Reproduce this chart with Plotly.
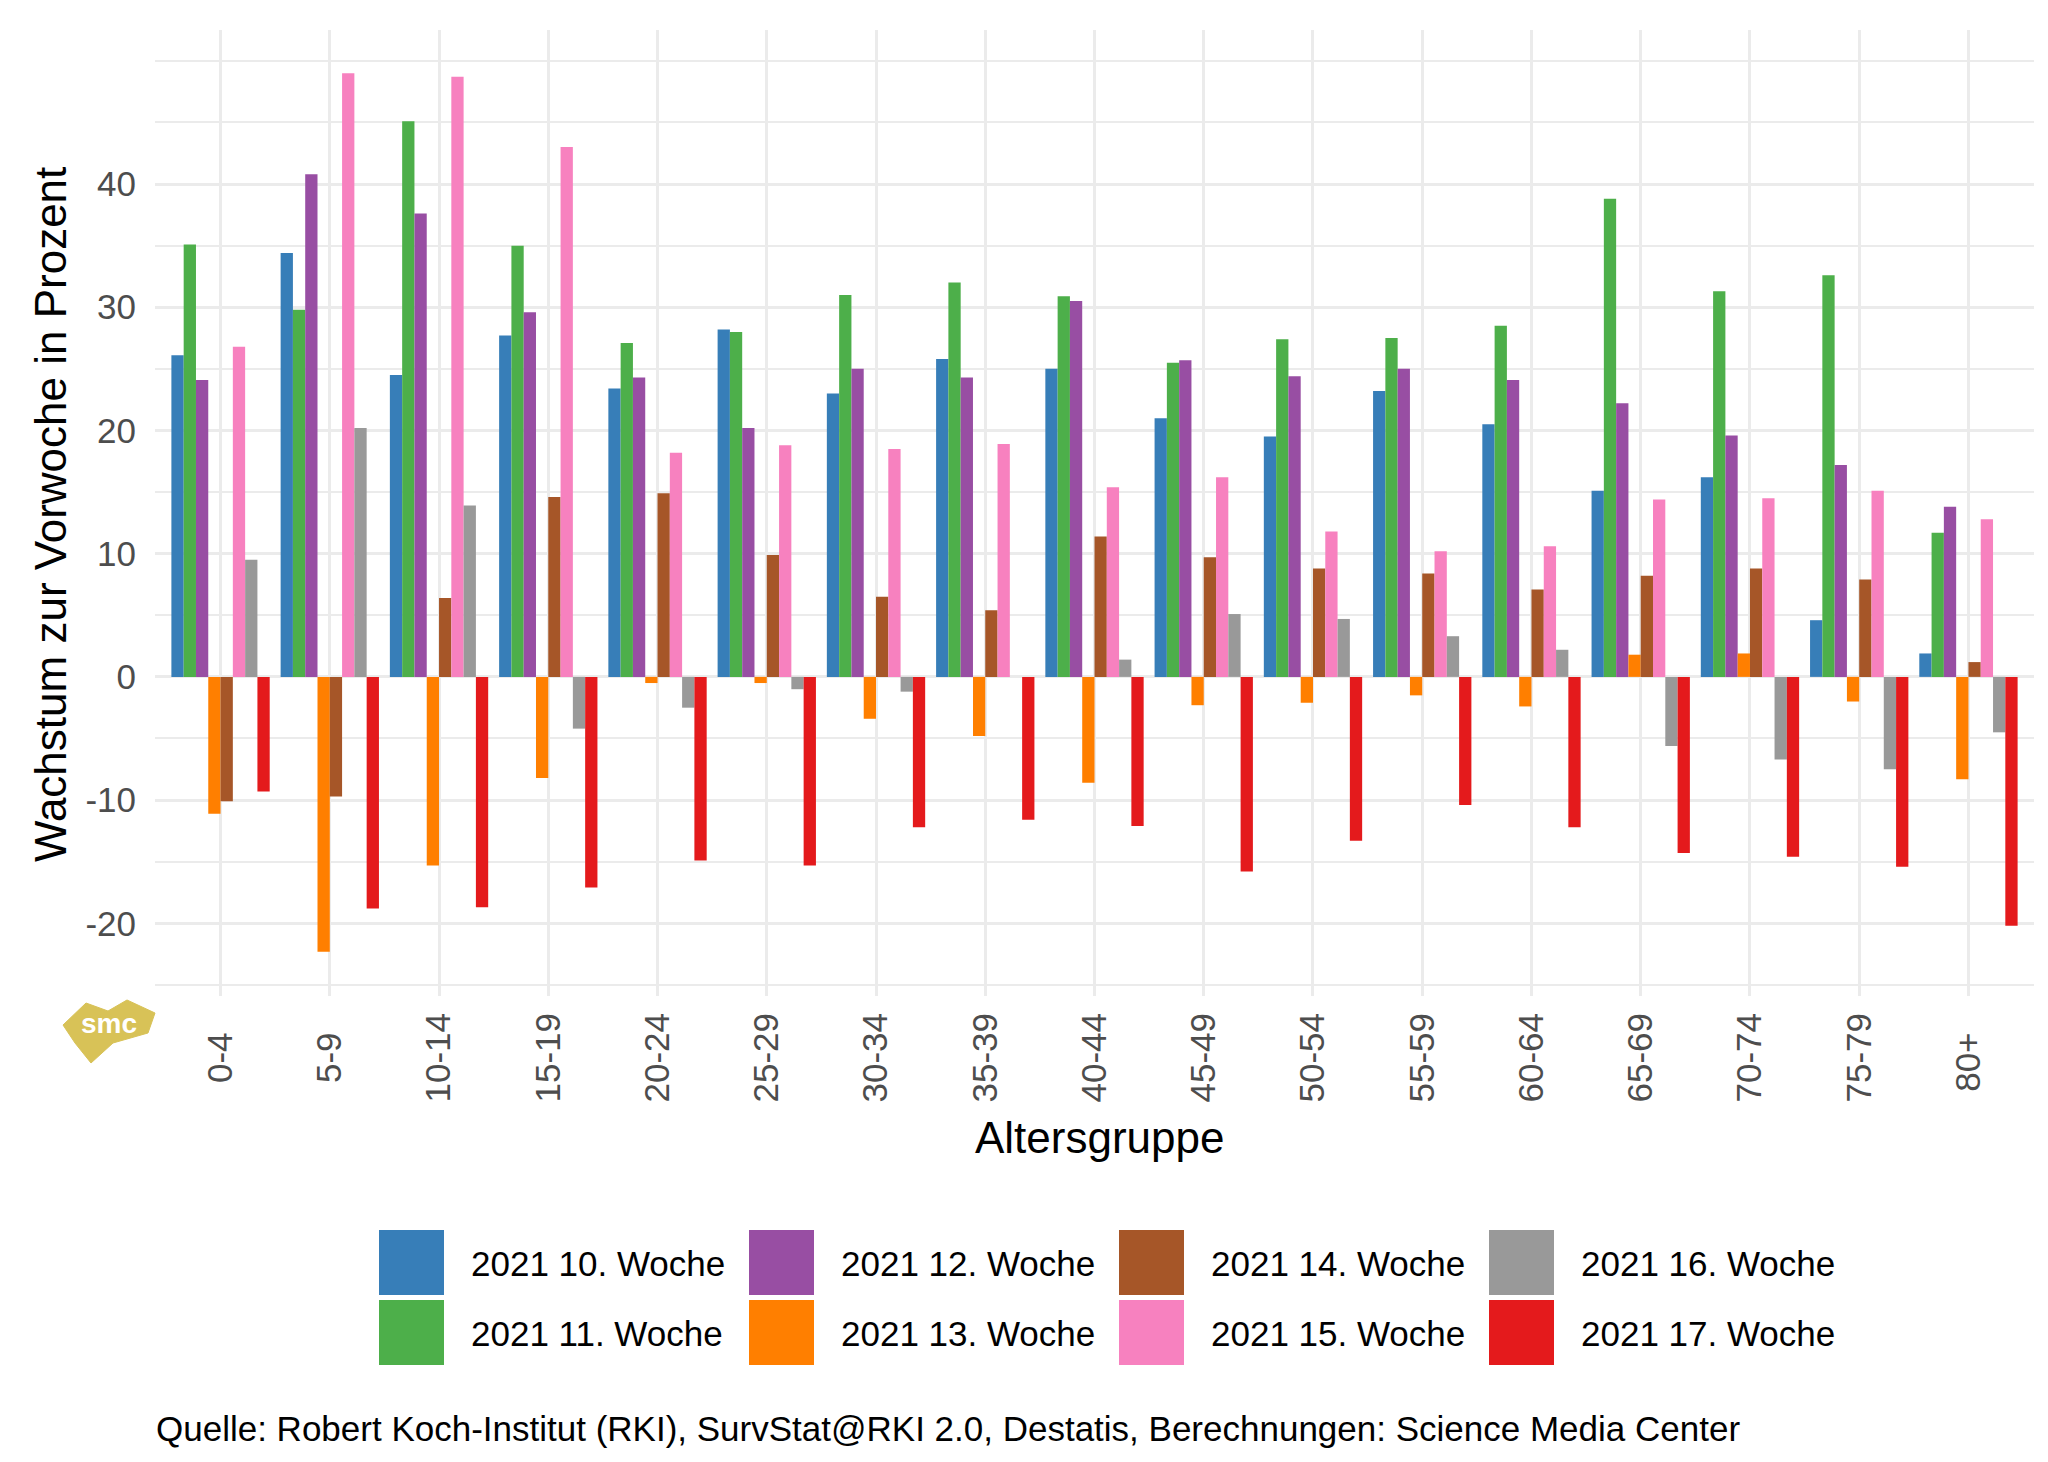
import plotly.graph_objects as go

# ---------------- data ----------------
categories = ["0-4", "5-9", "10-14", "15-19", "20-24", "25-29", "30-34", "35-39",
              "40-44", "45-49", "50-54", "55-59", "60-64", "65-69", "70-74", "75-79", "80+"]

series_names = ["2021 10. Woche", "2021 11. Woche", "2021 12. Woche", "2021 13. Woche",
                "2021 14. Woche", "2021 15. Woche", "2021 16. Woche", "2021 17. Woche"]

colors = ["#377EB8", "#4DAF4A", "#984EA3", "#FF7F00", "#A65628", "#F781BF", "#999999", "#E41A1C"]

w10 = [26.1, 34.4, 24.5, 27.7, 23.4, 28.2, 23.0, 25.8, 25.0, 21.0, 19.5, 23.2, 20.5, 15.1, 16.2, 4.6, 1.9]
w11 = [35.1, 29.8, 45.1, 35.0, 27.1, 28.0, 31.0, 32.0, 30.9, 25.5, 27.4, 27.5, 28.5, 38.8, 31.3, 32.6, 11.7]
w12 = [24.1, 40.8, 37.6, 29.6, 24.3, 20.2, 25.0, 24.3, 30.5, 25.7, 24.4, 25.0, 24.1, 22.2, 19.6, 17.2, 13.8]
w13 = [-11.1, -22.3, -15.3, -8.2, -0.5, -0.5, -3.4, -4.8, -8.6, -2.3, -2.1, -1.5, -2.4, 1.8, 1.9, -2.0, -8.3]
w14 = [-10.1, -9.7, 6.4, 14.6, 14.9, 9.9, 6.5, 5.4, 11.4, 9.7, 8.8, 8.4, 7.1, 8.2, 8.8, 7.9, 1.2]
w15 = [26.8, 49.0, 48.7, 43.0, 18.2, 18.8, 18.5, 18.9, 15.4, 16.2, 11.8, 10.2, 10.6, 14.4, 14.5, 15.1, 12.8]
w16 = [9.5, 20.2, 13.9, -4.2, -2.5, -1.0, -1.2, 0.0, 1.4, 5.1, 4.7, 3.3, 2.2, -5.6, -6.7, -7.5, -4.5]
w17 = [-9.3, -18.8, -18.7, -17.1, -14.9, -15.3, -12.2, -11.6, -12.1, -15.8, -13.3, -10.4, -12.2, -14.3, -14.6, -15.4, -20.2]

series_values = [w10, w11, w12, w13, w14, w15, w16, w17]

y_major = [-20, -10, 0, 10, 20, 30, 40]
y_minor = [-25, -15, -5, 5, 15, 25, 35, 45, 50]

# ---------------- layout geometry (pixels) ----------------
W, H = 2048, 1462
PL, PR, PT, PB = 147, 2026, 22, 988   # panel edges


def px_x(x):
    return (x - PL) / (PR - PL)


def px_y(y):
    return (PB - y) / (PB - PT)


FONT = "Liberation Sans, Arial, Helvetica, sans-serif"

# ggplot centres the rotated tick labels; pad the short ones so they centre too
tick_text = [c + "\u00a0\u00a0" if len(c) == 3 else c for c in categories]

fig = go.Figure()
for name, vals, col in zip(series_names, series_values, colors):
    fig.add_trace(go.Bar(
        x=categories, y=vals, name=name,
        marker=dict(color=col, line=dict(width=0)),
        showlegend=False,
    ))

fig.update_layout(
    width=W, height=H,
    margin=dict(l=PL, r=W - PR, t=PT, b=H - PB, autoexpand=False),
    paper_bgcolor="white", plot_bgcolor="white",
    barmode="group", bargap=0.1, bargroupgap=0,
    font=dict(family=FONT, size=35, color="black"),
)

fig.update_xaxes(
    type="category", range=[-0.6, 16.6],
    tickmode="array", tickvals=categories, ticktext=tick_text,
    showgrid=True, gridcolor="#EBEBEB", gridwidth=3,
    showline=False, zeroline=False, ticks="",
    tickangle=-90, tickfont=dict(family=FONT, size=35, color="#4D4D4D"),
    ticklabelstandoff=9, automargin=False,
)
fig.update_yaxes(
    range=[-25.9, 52.5],
    tickmode="array", tickvals=y_major, ticktext=[str(v) for v in y_major],
    showgrid=True, gridcolor="#EBEBEB", gridwidth=3,
    minor=dict(tickmode="array", tickvals=y_minor, showgrid=True,
               gridcolor="#EBEBEB", gridwidth=1.7, ticks=""),
    showline=False, zeroline=False, ticks="",
    tickfont=dict(family=FONT, size=35, color="#4D4D4D"),
    ticklabelstandoff=18, automargin=False,
)

annotations = []
shapes = []

# axis titles
annotations.append(dict(
    text="Wachstum zur Vorwoche in Prozent", textangle=-90,
    xref="paper", yref="paper", x=px_x(42), y=px_y(507),
    xanchor="center", yanchor="middle", showarrow=False,
    font=dict(family=FONT, size=44, color="black"),
))
annotations.append(dict(
    text="Altersgruppe",
    xref="paper", yref="paper", x=px_x(1091), y=px_y(1129),
    xanchor="center", yanchor="middle", showarrow=False,
    font=dict(family=FONT, size=44, color="black"),
))

# custom legend (column-major, 2 rows x 4 columns)
key_x = [371, 741, 1111, 1481]
text_x = [461, 831, 1201, 1571]
row_top = [1222, 1292]
key_size = 65
for i, (name, col) in enumerate(zip(series_names, colors)):
    c, r = divmod(i, 2)
    x0, y0 = key_x[c], row_top[r]
    shapes.append(dict(
        type="rect", xref="paper", yref="paper",
        x0=px_x(x0), x1=px_x(x0 + key_size), y0=px_y(y0 + key_size), y1=px_y(y0),
        fillcolor=col, line=dict(width=0),
    ))
    annotations.append(dict(
        text=name, xref="paper", yref="paper",
        x=px_x(text_x[c]), y=px_y(y0 + key_size / 2 + 1),
        xanchor="left", yanchor="middle", showarrow=False,
        font=dict(family=FONT, size=35, color="black"),
    ))

# caption
annotations.append(dict(
    text="Quelle: Robert Koch-Institut (RKI), SurvStat@RKI 2.0, Destatis, Berechnungen: Science Media Center",
    xref="paper", yref="paper", x=px_x(146), y=px_y(1420),
    xanchor="left", yanchor="middle", showarrow=False,
    font=dict(family=FONT, size=35, color="black"),
))

# smc logo
logo_pts = [(55, 1017), (78, 995), (100, 1003), (119, 992), (147, 1005),
            (140, 1025), (105, 1035), (83, 1055), (67, 1035)]
path = "M " + " L ".join(f"{px_x(x):.5f},{px_y(y):.5f}" for x, y in logo_pts) + " Z"
shapes.append(dict(type="path", xref="paper", yref="paper", path=path,
                   fillcolor="#D8C257", line=dict(color="#D8C257", width=1)))
annotations.append(dict(
    text="<b>smc</b>", xref="paper", yref="paper", x=px_x(101), y=px_y(1015),
    xanchor="center", yanchor="middle", showarrow=False,
    font=dict(family=FONT, size=28, color="white"),
))

fig.update_layout(annotations=annotations, shapes=shapes)

fig.write_html("out.html")
